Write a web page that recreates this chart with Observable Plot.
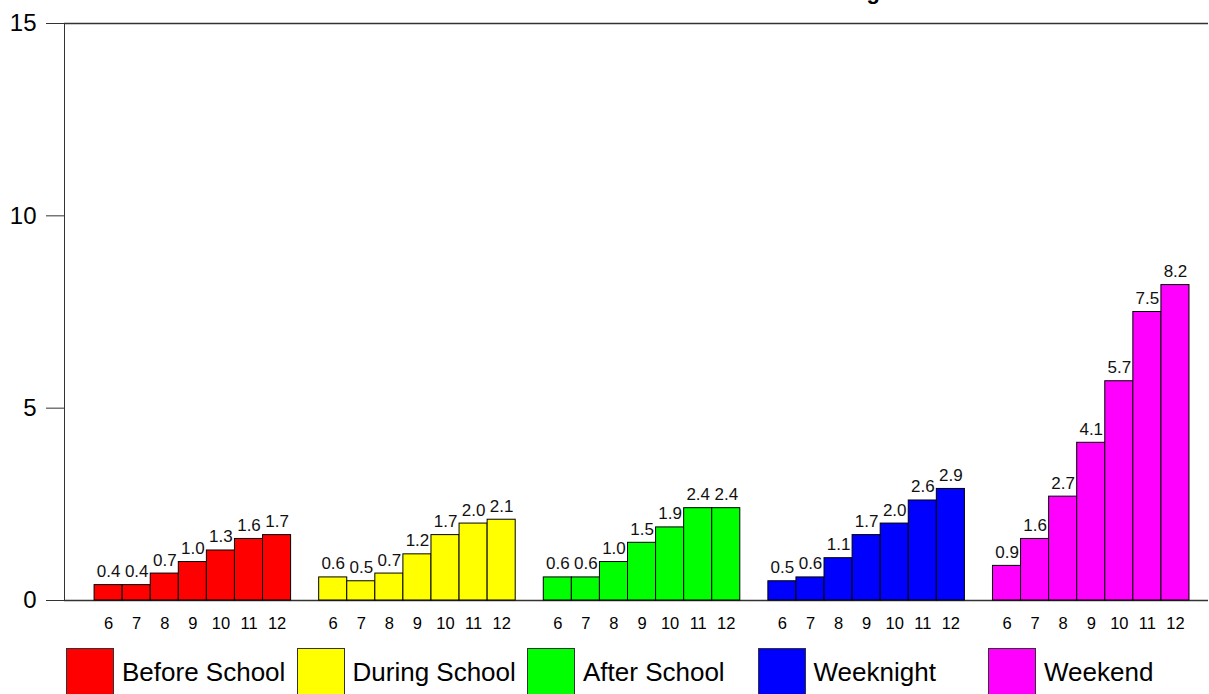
<!DOCTYPE html>
<html>
<head>
<meta charset="utf-8">
<script src="https://cdn.jsdelivr.net/npm/d3@7"></script>
<script src="https://cdn.jsdelivr.net/npm/@observablehq/plot@0.6"></script>
<style>
  html, body { margin: 0; padding: 0; background: white; overflow: hidden; }
  body { width: 1209px; height: 694px; position: relative; font-family: "Liberation Sans", Arial, sans-serif; }
  #title { position: absolute; z-index: 5; top: -20px; left: 0; width: 880px; text-align: right; font-weight: bold; font-size: 22px; line-height: 24px; white-space: nowrap; }
  #chart { position: absolute; top: 0; left: 0; z-index: 1; }
  .leg { position: absolute; top: 648px; height: 48px; display: flex; align-items: center; font-size: 26px; white-space: nowrap; }
  .sw { width: 48px; height: 48px; box-sizing: border-box; border: 1px solid #333; margin-right: 8px; flex: none; }
</style>
</head>
<body>
<div id="chart"></div>
<div id="title">Total Hours of Screen Time Per Grade and Setting</div>
<div id="legend"></div>
<script>
const settings = ["Before School", "During School", "After School", "Weeknight", "Weekend"];
const grades = [6, 7, 8, 9, 10, 11, 12];
const beforeSchool = [0.4, 0.4, 0.7, 1.0, 1.3, 1.6, 1.7];
const duringSchool = [0.6, 0.5, 0.7, 1.2, 1.7, 2.0, 2.1];
const afterSchool = [0.6, 0.6, 1.0, 1.5, 1.9, 2.4, 2.4];
const weeknight = [0.5, 0.6, 1.1, 1.7, 2.0, 2.6, 2.9];
const weekend = [0.9, 1.6, 2.7, 4.1, 5.7, 7.5, 8.2];
const colors = ["#ff0000", "#ffff00", "#00ff00", "#0000ff", "#ff00ff"];
const yTicks = [0, 5, 10, 15];

const series = [beforeSchool, duringSchool, afterSchool, weeknight, weekend];
const data = [];
const domain = [];
settings.forEach((s, i) => {
  domain.push(s + "|gap");
  grades.forEach((g, j) => {
    const key = s + "|" + g;
    domain.push(key);
    data.push({setting: s, grade: g, key, value: series[i][j]});
  });
});

const plot = Plot.plot({
  width: 1209,
  height: 640,
  marginTop: 23,
  marginBottom: 40,
  marginLeft: 64,
  marginRight: 1,
  style: {fontFamily: "'Liberation Sans', Arial, sans-serif", background: "transparent", color: "black"},
  x: {domain, range: [66, 1189], padding: 0, round: false, axis: null, label: null},
  y: {domain: [0, 15], axis: null, label: null},
  color: {domain: settings, range: colors},
  marks: [
    Plot.ruleY([0, 15], {stroke: "#333", strokeWidth: 1.5}),
    Plot.barY(data, {x: "key", y: "value", fill: "setting", stroke: "black", strokeWidth: 1}),
    Plot.text(data, {x: "key", y: "value", text: d => d.value.toFixed(1), lineAnchor: "bottom", dy: -8, fontSize: 17, fill: "#111"}),
    Plot.axisX({domain, label: null, tickSize: 0, tickPadding: 17, fontSize: 16.5, tickFormat: d => d.endsWith("|gap") ? "" : d.split("|")[1]}),
    Plot.axisY({ticks: yTicks, label: null, tickSize: 18, tickPadding: 10, fontSize: 24, stroke: "#333"}),
    Plot.frame({anchor: "left", stroke: "#333"})
  ]
});
document.getElementById("chart").appendChild(plot);

const legend = document.getElementById("legend");
settings.forEach((s, i) => {
  const item = document.createElement("div");
  item.className = "leg";
  item.style.left = (66 + i * 230.5) + "px";
  const sw = document.createElement("div");
  sw.className = "sw";
  sw.style.background = colors[i];
  const t = document.createElement("span");
  t.textContent = s;
  item.appendChild(sw);
  item.appendChild(t);
  legend.appendChild(item);
});
</script>
</body>
</html>
